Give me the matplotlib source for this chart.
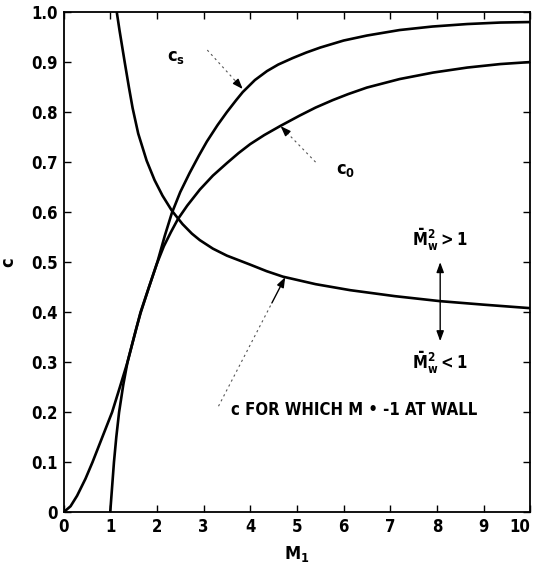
import numpy as np
import matplotlib
matplotlib.use('Agg')
import matplotlib.pyplot as plt

# narrow bold sans for everything, mathtext too
plt.rcParams['font.family'] = ['DejaVu Sans']
plt.rcParams['font.stretch'] = 'condensed'
plt.rcParams['font.weight'] = 'bold'
plt.rcParams['mathtext.fontset'] = 'custom'
plt.rcParams['mathtext.rm'] = 'DejaVu Sans:bold'
plt.rcParams['mathtext.it'] = 'DejaVu Sans:bold'
plt.rcParams['mathtext.bf'] = 'DejaVu Sans:bold'

# c_s curve
m_s = [0, 0.15, 0.29, 0.47, 0.62, 0.83, 1.04, 1.2, 1.37, 1.51, 1.65, 1.83, 2.01,
       2.17, 2.32, 2.5, 2.7, 2.9, 3.07, 3.3, 3.5, 3.7, 3.84, 4.1, 4.36, 4.6, 4.91,
       5.2, 5.5, 6.0, 6.5, 7.2, 7.9, 8.65, 9.36, 10]
c_s = [0, 0.012, 0.033, 0.067, 0.1, 0.15, 0.2, 0.248, 0.3, 0.35, 0.4, 0.45, 0.5,
       0.553, 0.598, 0.64, 0.678, 0.713, 0.741, 0.774, 0.8, 0.824, 0.84, 0.864, 0.882, 0.895, 0.908,
       0.919, 0.929, 0.943, 0.953, 0.964, 0.971, 0.976, 0.979, 0.98]

# c_0 curve
m_0 = [1.0, 1.04, 1.08, 1.13, 1.19, 1.28, 1.37, 1.47, 1.56, 1.65, 1.83, 2.0, 2.15, 2.3, 2.45,
       2.65, 2.92, 3.2, 3.5, 3.75, 4.0, 4.3, 4.64, 5.06, 5.4, 5.77, 6.1, 6.5, 7.2,
       7.92, 8.65, 9.36, 10]
c_0 = [0, 0.05, 0.1, 0.15, 0.2, 0.255, 0.3, 0.336, 0.368, 0.398, 0.45, 0.497, 0.532, 0.56, 0.586,
       0.613, 0.645, 0.673, 0.698, 0.718, 0.736, 0.754, 0.772, 0.793, 0.809, 0.824, 0.836, 0.849, 0.866,
       0.879, 0.889, 0.896, 0.9]

# c for which M = -1 at wall
m_w = [1.14, 1.2, 1.31, 1.4, 1.48, 1.6, 1.78, 1.95, 2.12, 2.32, 2.55, 2.75, 2.92, 3.2,
       3.5, 4.0, 4.35, 4.7, 5.4, 6.14, 7.1, 8.07, 9.0, 10]
c_w = [1.0, 0.963, 0.9, 0.85, 0.808, 0.757, 0.703, 0.664, 0.633, 0.603, 0.576, 0.557, 0.544, 0.527,
       0.513, 0.495, 0.482, 0.471, 0.456, 0.444, 0.432, 0.422, 0.415, 0.408]

xticks = list(range(0, 11))
yticks = [0, 0.1, 0.2, 0.3, 0.4, 0.5, 0.6, 0.7, 0.8, 0.9, 1.0]
ytick_labels = ['0', '0.1', '0.2', '0.3', '0.4', '0.5', '0.6', '0.7', '0.8', '0.9', '1.0']

fig = plt.figure(figsize=(5.34, 5.73), dpi=100)
ax = fig.add_axes([0.119, 0.106, 0.874, 0.873])

lw = 1.9
ax.plot(m_s, c_s, color='black', lw=lw, solid_joinstyle='round')
ax.plot(m_0, c_0, color='black', lw=lw, solid_joinstyle='round')
ax.plot(m_w, c_w, color='black', lw=lw, solid_joinstyle='round')

ax.set_xlim(0, 10)
ax.set_ylim(0, 1.0)
ax.set_xticks(xticks)
ax.set_xticklabels([str(t) for t in xticks])
ax.set_yticks(yticks)
ax.set_yticklabels(ytick_labels)
ax.tick_params(direction='in', top=True, right=True, length=5, width=1,
               labelsize=12, pad=4)
for lab in ax.get_xticklabels() + ax.get_yticklabels():
    lab.set_fontweight('bold')
ax.get_xticklabels()[-1].set_horizontalalignment('right')
for sp in ax.spines.values():
    sp.set_linewidth(1.3)

ax.set_xlabel(r'$\mathrm{M_1}$', fontsize=13, labelpad=6)
ax.set_ylabel('c', fontsize=13, fontweight='bold')
ax.yaxis.set_label_coords(-0.1, 0.5)


def leader(tail, head, label=None, label_xy=None, fs=13):
    """dotted leader line ending in a small solid arrowhead"""
    tx, ty = tail
    hx, hy = head
    # stop the dotted part a little short of the head
    fx = tx + (hx - tx) * 0.8
    fy = ty + (hy - ty) * 0.8
    ax.plot([tx, fx], [ty, fy], color='#555555', lw=0.8, ls=(0, (2, 3)))
    ax.annotate('', xy=(hx, hy), xytext=(fx, fy),
                arrowprops=dict(arrowstyle='-|>,head_length=0.6,head_width=0.22',
                                color='black', lw=1.0, shrinkA=0, shrinkB=0))
    if label:
        ax.text(label_xy[0], label_xy[1], label, fontsize=fs, ha='center', va='center')


leader((3.08, 0.924), (3.84, 0.846), r'$\mathrm{c_s}$', (2.42, 0.91))
leader((5.4, 0.70), (4.65, 0.772), r'$\mathrm{c_0}$', (6.05, 0.685))
leader((3.32, 0.212), (4.75, 0.47))
ax.text(3.58, 0.205, 'c FOR WHICH M \u2022 -1 AT WALL', fontsize=12,
        fontweight='bold', ha='left', va='center')

# double arrow across the wall curve
ax.annotate('', xy=(8.07, 0.50), xytext=(8.07, 0.422),
            arrowprops=dict(arrowstyle='-|>,head_length=0.6,head_width=0.22',
                            color='black', lw=1.0, shrinkA=0, shrinkB=0))
ax.annotate('', xy=(8.07, 0.342), xytext=(8.07, 0.422),
            arrowprops=dict(arrowstyle='-|>,head_length=0.6,head_width=0.22',
                            color='black', lw=1.0, shrinkA=0, shrinkB=0))
ax.text(8.07, 0.545, r'$\mathrm{\bar{M}_w^2 > 1}$', fontsize=12, ha='center', va='center')
ax.text(8.07, 0.298, r'$\mathrm{\bar{M}_w^2 < 1}$', fontsize=12, ha='center', va='center')

fig.savefig('out.png', dpi=100, facecolor='white')
